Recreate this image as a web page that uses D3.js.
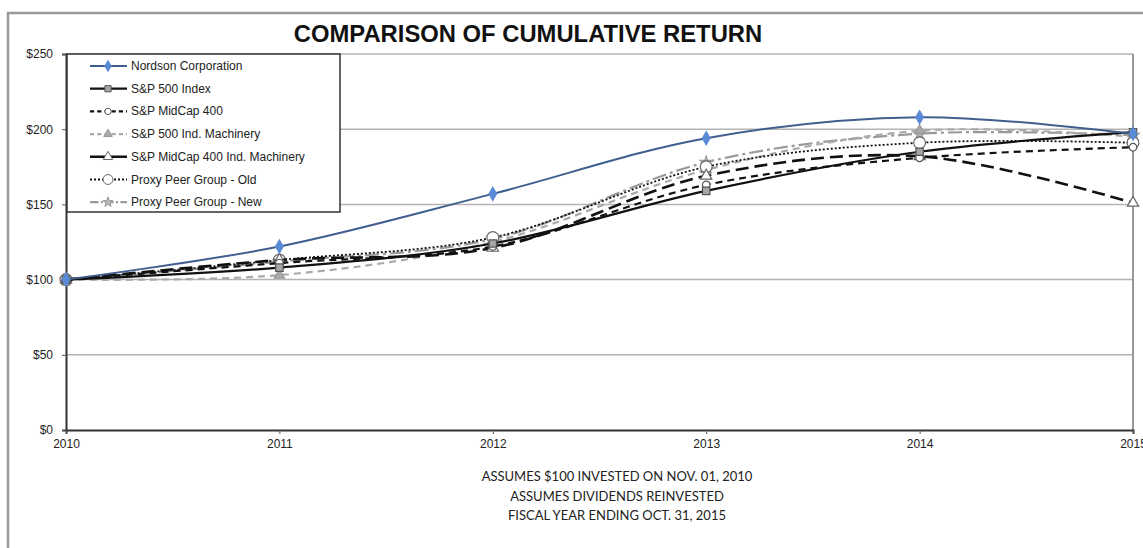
<!DOCTYPE html>
<html>
<head>
<meta charset="utf-8">
<script src="https://cdn.jsdelivr.net/npm/d3@7"></script>
<style>
	body { margin: 0; background: #fff; }
	svg { display: block; }
	.lbl { font-family: "Liberation Sans", Arial, sans-serif; font-size: 12px; fill: #222; }
	.note { font-family: Lato, "Open Sans", sans-serif; font-size: 13px; fill: #222; }
</style>
</head>
<body>
<svg id="chart" width="1143" height="548"></svg>
<script>
// data
const years = [2010, 2011, 2012, 2013, 2014, 2015];
const nordson      = [100, 122, 157, 194, 208, 197];
const sp500        = [100, 108, 124, 159, 185, 198];
const midcap400    = [100, 111, 122, 163, 181, 188];
const sp500Mach    = [100, 103, 125, 173, 199, 195];
const midcapMach   = [100, 113, 121, 169, 182, 151];
const peerOld      = [100, 113, 128, 175, 191, 191];
const peerNew      = [100, 112, 127, 178, 197, 196];
const yTicks = [0, 50, 100, 150, 200, 250];
const seriesNames = ["Nordson Corporation", "S&P 500 Index", "S&P MidCap 400",
	"S&P 500 Ind. Machinery", "S&P MidCap 400 Ind. Machinery",
	"Proxy Peer Group - Old", "Proxy Peer Group - New"];
const notes = ["ASSUMES $100 INVESTED ON NOV. 01, 2010",
	"ASSUMES DIVIDENDS REINVESTED",
	"FISCAL YEAR ENDING OCT. 31, 2015"];

// line / marker styles per series
const styles = [
	{stroke: "#3f5f8e", width: 2, dash: null, marker: "diamond", fill: "#5a8ad6", mstroke: "#5a8ad6", size: 50},
	{stroke: "#111", width: 2.2, dash: null, marker: "square", fill: "#a6a6a6", mstroke: "#555", size: 55},
	{stroke: "#111", width: 2.2, dash: "7,5", marker: "circle", fill: "#fff", mstroke: "#555", size: 45},
	{stroke: "#aaa", width: 2.2, dash: "7,5", marker: "triangle", fill: "#aaa", mstroke: "#999", size: 45},
	{stroke: "#111", width: 2.6, dash: "13,6", marker: "triangle", fill: "#fff", mstroke: "#666", size: 55},
	{stroke: "#111", width: 1.8, dash: "2,2", marker: "circle", fill: "#fff", mstroke: "#666", size: 110},
	{stroke: "#999", width: 2.2, dash: "14,4,3,4", marker: "star", fill: "#bbb", mstroke: "#999", size: 45}
];
const values = [nordson, sp500, midcap400, sp500Mach, midcapMach, peerOld, peerNew];

const svg = d3.select("#chart");

const x = d3.scaleLinear().domain([2010, 2015]).range([66, 1133]);
const y = d3.scaleLinear().domain([0, 250]).range([430, 54]);

// outer frame
svg.append("path")
	.attr("d", "M8,548 L8,13 L1143,13")
	.attr("fill", "none")
	.attr("stroke", "#9a9a9a")
	.attr("stroke-width", 2.5);

// title
svg.append("text")
	.attr("x", 528)
	.attr("y", 42)
	.attr("text-anchor", "middle")
	.attr("font-family", "'Liberation Sans', Arial, sans-serif")
	.attr("font-weight", "bold")
	.attr("font-size", 23.8)
	.attr("fill", "#111")
	.text("COMPARISON OF CUMULATIVE RETURN");

// gridlines
svg.append("g")
	.selectAll("line")
	.data(yTicks.filter(d => d > 0))
	.join("line")
	.attr("x1", x(2010))
	.attr("x2", x(2015))
	.attr("y1", d => y(d))
	.attr("y2", d => y(d))
	.attr("stroke", "#b4b4b4")
	.attr("stroke-width", 1.5);

// right edge line
svg.append("line")
	.attr("x1", x(2015)).attr("x2", x(2015))
	.attr("y1", y(250)).attr("y2", y(0))
	.attr("stroke", "#777")
	.attr("stroke-width", 1.5);

// axes
const yAxis = svg.append("g")
	.attr("transform", `translate(${x(2010)},0)`)
	.call(d3.axisLeft(y).tickValues(yTicks).tickSize(4).tickPadding(9).tickFormat(d => "$" + d));
yAxis.select(".domain").attr("stroke", "#333").attr("stroke-width", 2);
yAxis.selectAll(".tick line").attr("stroke", "#555");
yAxis.selectAll("text").attr("class", "lbl").attr("font-size", null).attr("font-family", null);

const xAxis = svg.append("g")
	.attr("transform", `translate(0,${y(0)})`)
	.call(d3.axisBottom(x).tickValues(years).tickSize(4).tickPadding(5).tickFormat(d3.format("d")));
xAxis.select(".domain").attr("stroke", "#333").attr("stroke-width", 2);
xAxis.selectAll(".tick line").attr("stroke", "#555");
xAxis.selectAll("text").attr("class", "lbl").attr("font-size", null).attr("font-family", null);

function symbolOf(name) {
	if (name == "diamond") return d3.symbolDiamond;
	if (name == "square") return d3.symbolSquare;
	if (name == "triangle") return d3.symbolTriangle;
	if (name == "star") return d3.symbolStar;
	return d3.symbolCircle;
}

const line = d3.line()
	.x((d, i) => x(years[i]))
	.y(d => y(d))
	.curve(d3.curveCatmullRom.alpha(0.5));

// draw series, back to front
const order = [6, 3, 5, 4, 2, 1, 0];
order.forEach(function(k) {
	const st = styles[k];
	const g = svg.append("g");
	g.append("path")
		.attr("d", line(values[k]))
		.attr("fill", "none")
		.attr("stroke", st.stroke)
		.attr("stroke-width", st.width)
		.attr("stroke-dasharray", st.dash);
	g.selectAll("path.mk")
		.data(values[k])
		.join("path")
		.attr("class", "mk")
		.attr("transform", (d, i) => `translate(${x(years[i])},${y(d)})`)
		.attr("d", d3.symbol().type(symbolOf(st.marker)).size(st.size))
		.attr("fill", st.fill)
		.attr("stroke", st.mstroke)
		.attr("stroke-width", 1.2);
});

// legend
const legend = svg.append("g");
legend.append("rect")
	.attr("x", 67).attr("y", 54)
	.attr("width", 273).attr("height", 158)
	.attr("fill", "#fff")
	.attr("stroke", "#333")
	.attr("stroke-width", 1.5);

const legendY0 = 66, legendStep = 22.7;
seriesNames.forEach(function(name, k) {
	const st = styles[k];
	const ly = legendY0 + k * legendStep;
	legend.append("line")
		.attr("x1", 90).attr("x2", 127)
		.attr("y1", ly).attr("y2", ly)
		.attr("stroke", st.stroke)
		.attr("stroke-width", st.width)
		.attr("stroke-dasharray", k == 4 ? null : (st.dash ? st.dash.split(",").map(v => Math.max(2, v * 0.6)).join(",") : null));
	legend.append("path")
		.attr("transform", `translate(108,${ly})`)
		.attr("d", d3.symbol().type(symbolOf(st.marker)).size(st.size * 0.7))
		.attr("fill", st.fill)
		.attr("stroke", st.mstroke)
		.attr("stroke-width", 1);
	legend.append("text")
		.attr("class", "lbl")
		.attr("x", 131)
		.attr("y", ly + 4)
		.text(name);
});

// footnotes
svg.append("g")
	.selectAll("text")
	.data(notes)
	.join("text")
	.attr("class", "note")
	.attr("x", 617)
	.attr("y", (d, i) => 481 + i * 19.5)
	.attr("text-anchor", "middle")
	.text(d => d);
</script>
</body>
</html>
